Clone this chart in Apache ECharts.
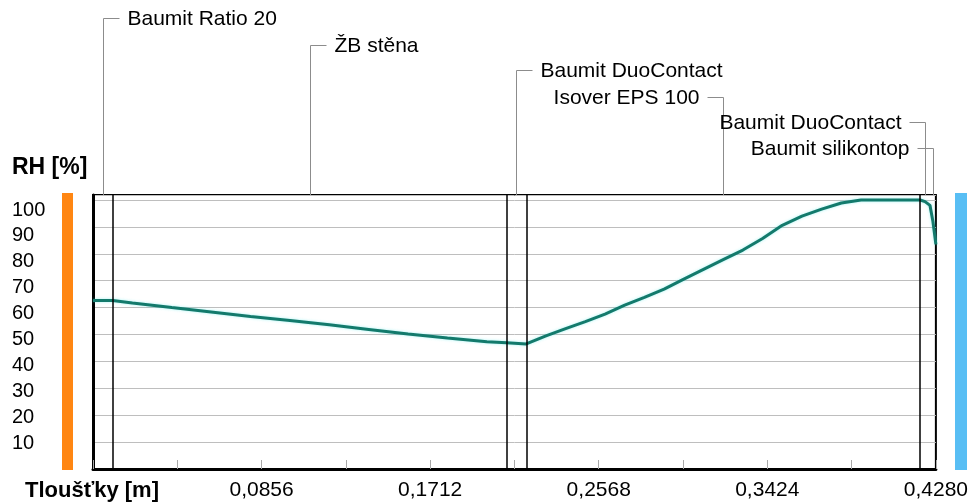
<!DOCTYPE html>
<html><head><meta charset="utf-8">
<script src="https://cdn.jsdelivr.net/npm/echarts@6/dist/echarts.min.js"></script>
<style>html,body{margin:0;padding:0;background:#fff}#c{width:971px;height:504px}</style>
</head><body><div id="c"></div>
<script>
// ---- data ----
const thickness = [0, 0.01, 0.02, 0.04, 0.06, 0.08, 0.10, 0.12, 0.14, 0.16, 0.18, 0.20, 0.21, 0.22,
  0.23, 0.24, 0.25, 0.26, 0.27, 0.28, 0.29, 0.30, 0.31, 0.32, 0.33, 0.34, 0.35, 0.36, 0.37, 0.38,
  0.39, 0.40, 0.41, 0.42, 0.4225, 0.425, 0.4265, 0.428];
const rh = [62.6, 62.6, 61.7, 60.0, 58.4, 56.7, 55.2, 53.6, 51.9, 50.2, 48.7, 47.3, 46.9, 46.5,
  49.5, 52.2, 54.8, 57.6, 60.9, 63.8, 66.9, 70.6, 74.2, 77.8, 81.4, 85.7, 90.6, 94.0, 96.6, 98.9,
  100, 100, 100, 100, 99.4, 98.0, 92.0, 83.5];
const layerNames = ['Baumit Ratio 20', 'ŽB stěna', 'Baumit DuoContact', 'Isover EPS 100', 'Baumit DuoContact', 'Baumit silikontop'];
const layerThickness = [0.01, 0.2, 0.01, 0.2, 0.005, 0.003];
const xTickStep = 0.0428;
const yTickLabels = ['10', '20', '30', '40', '50', '60', '70', '80', '90', '100'];
const xTitle = 'Tloušťky [m]';
const yTitle = 'RH [%]';

// ---- layout ----
const FONT = '"Liberation Sans", Arial, sans-serif';
const yDataMax = 101.86;
const yLabelMax = 105.8;
const labelLayout = [
  {y: 18, dir: 1}, {y: 45, dir: 1}, {y: 70, dir: 1},
  {y: 97, dir: -1}, {y: 122, dir: -1}, {y: 148, dir: -1}
];

const boundaries = [];
let acc = 0;
const mids = [];
layerThickness.forEach((t) => { mids.push(acc + t / 2); acc += t; boundaries.push(acc); });
const innerBoundaries = boundaries.slice(0, -1);

const chart = echarts.init(document.getElementById('c'), null, {renderer: 'canvas'});
chart.setOption({
  animation: false,
  backgroundColor: '#fff',
  grid: {left: 93, right: 35, top: 195, bottom: 35, show: true, borderColor: '#000', borderWidth: 2, backgroundColor: 'transparent'},
  xAxis: {
    type: 'value', min: 0, max: 0.428, interval: xTickStep,
    axisLine: {show: true, onZero: false, lineStyle: {color: '#000', width: 3}},
    axisTick: {show: true, inside: true, length: 9, lineStyle: {color: '#A8A8A8', width: 1}},
    splitLine: {show: false},
    axisLabel: {
      color: '#000', fontSize: 21, fontFamily: FONT, margin: 11,
      formatter: (v) => { const k = Math.round(v / xTickStep); return (k > 0 && k % 2 === 0) ? v.toFixed(4).replace('.', ',') : ''; }
    }
  },
  yAxis: [
    { // data axis (gridlines)
      type: 'value', position: 'right', min: 0, max: yDataMax, interval: 10,
      axisLine: {show: false}, axisTick: {show: false}, axisLabel: {show: false},
      splitLine: {show: true, lineStyle: {color: '#BEBEBE', width: 1}}
    },
    { // label axis
      type: 'value', position: 'left', min: 0, max: yLabelMax, interval: 10,
      axisLine: {show: true, onZero: false, lineStyle: {color: '#000', width: 3}},
      axisTick: {show: false}, splitLine: {show: false},
      axisLabel: {
        color: '#000', fontSize: 20, fontFamily: FONT, align: 'left', margin: 81, showMaxLabel: false,
        formatter: (v) => { const i = Math.round(v / 10) - 1; return (i >= 0 && i < yTickLabels.length) ? yTickLabels[i] : ''; }
      }
    }
  ],
  series: [
    {
      type: 'line', yAxisIndex: 0, showSymbol: false, symbol: 'none', smooth: false,
      data: thickness.map((t, i) => [t, rh[i]]),
      lineStyle: {color: '#137A6C', width: 3, shadowColor: 'rgba(60,230,230,0.45)', shadowBlur: 3},
      z: 3,
      markLine: {
        silent: true, symbol: 'none', label: {show: false},
        lineStyle: {color: '#000', width: 1.5, type: 'solid'},
        data: innerBoundaries.map((b) => ({xAxis: b}))
      }
    },
    {
      type: 'custom', yAxisIndex: 0, silent: true, clip: false,
      data: mids.map((m) => [m, yDataMax]),
      renderItem: (params, api) => {
        const i = params.dataIndex;
        const L = labelLayout[i];
        const p = api.coord([api.value(0), api.value(1)]);
        const x = Math.round(p[0]) + 0.5, top = p[1];
        const hx = x + L.dir * 16;
        return {
          type: 'group',
          children: [
            {type: 'polyline', shape: {points: [[x, top], [x, L.y + 0.5], [hx, L.y + 0.5]]},
             style: {stroke: '#8C8C8C', lineWidth: 1, fill: null}},
            {type: 'text', style: {text: layerNames[i], x: hx + L.dir * 8, y: L.y + 1,
              textAlign: L.dir > 0 ? 'left' : 'right', textVerticalAlign: 'middle',
              font: '21px ' + FONT, fill: '#000'}}
          ]
        };
      }
    }
  ],
  graphic: [
    {type: 'rect', left: 62, top: 193, shape: {width: 11, height: 277}, style: {fill: '#FF8612'}},
    {type: 'rect', left: 955, top: 193, shape: {width: 12, height: 277}, style: {fill: '#58BEF4'}},
    {type: 'text', left: 12, top: 156, style: {text: yTitle, font: 'bold 23px ' + FONT, fill: '#000'}},
    {type: 'text', left: 25, top: 480, style: {text: xTitle, font: 'bold 22px ' + FONT, fill: '#000'}}
  ]
});
</script>
</body></html>
